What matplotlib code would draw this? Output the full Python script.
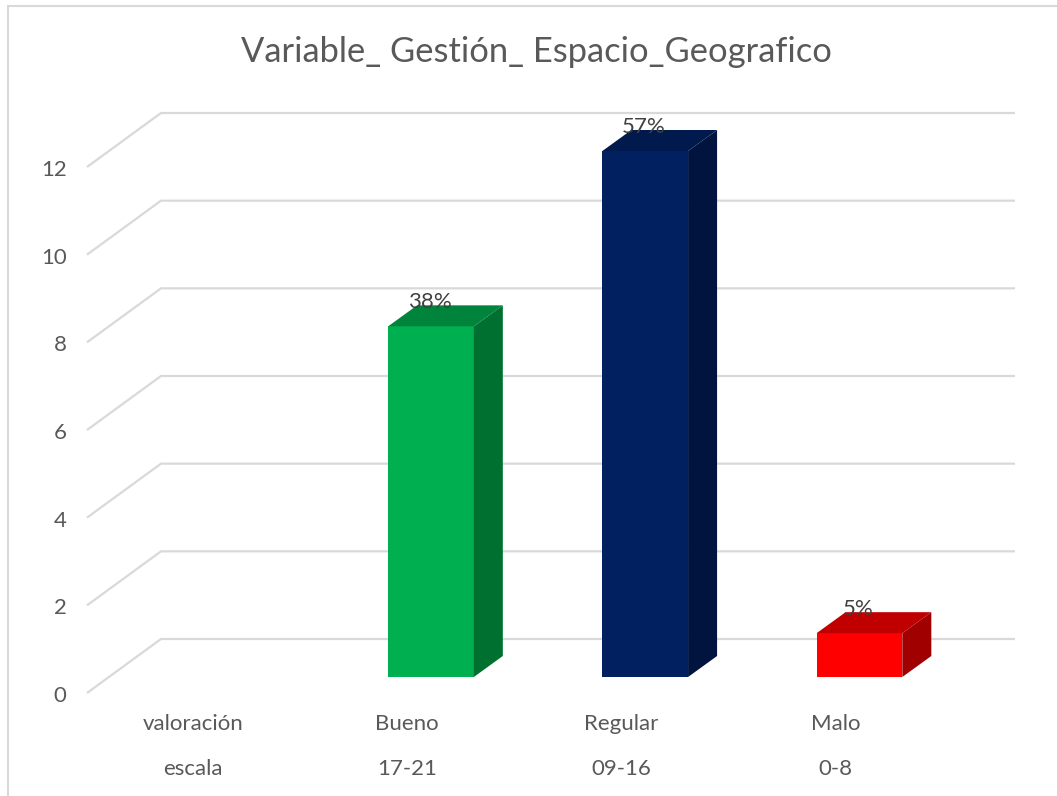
import matplotlib
matplotlib.use("Agg")
import matplotlib.pyplot as plt
from matplotlib.patches import Polygon, Rectangle
from matplotlib.transforms import ScaledTranslation

categories = ["valoración", "Bueno", "Regular", "Malo"]
scales = ["escala", "17-21", "09-16", "0-8"]
values = [0, 8, 12, 1]
percent_labels = ["", "38%", "57%", "5%"]
yticks = [0, 2, 4, 6, 8, 10, 12]
title = "Variable_ Gestión_ Espacio_Geografico"

front_colors = [None, "#00B050", "#002060", "#FF0000"]
side_colors = [None, "#007030", "#00143F", "#A00000"]
top_colors = [None, "#00843C", "#001A4D", "#C00000"]

W, H = 1057, 796
plt.rcParams["font.family"] = ["Lato", "DejaVu Sans"]
fig = plt.figure(figsize=(W / 100, H / 100), dpi=100)

L, R, T, B = 109.6, 966.6, 151.0, 677.0
ax = fig.add_axes([L / W, 1 - B / H, (R - L) / W, (B - T) / H])
ax.set_xlim(-0.5, 3.5)
ax.set_ylim(0, 12)
ax.patch.set_visible(False)
for s in ax.spines.values():
    s.set_visible(False)

px_x = (R - L) / 4
px_y = (B - T) / 12
BAR_W = 0.4
DX, DY = 29 / px_x, 21 / px_y
WALL_DX, WALL_DY = 51.4 / px_x, 38.0 / px_y
FLOOR_DX, FLOOR_DY = -22.6 / px_x, -16 / px_y
GRID = "#D9D9D9"

for v in yticks:
    xs = [-0.5 + FLOOR_DX, -0.5 + WALL_DX, 3.486 + WALL_DX]
    ys = [v + FLOOR_DY, v + WALL_DY, v + WALL_DY]
    ax.plot(xs, ys, color=GRID, lw=1.6, clip_on=False, zorder=1, solid_capstyle="butt")

for i, v in enumerate(values):
    if v <= 0:
        continue
    ax.bar(i, v, BAR_W, color=front_colors[i], zorder=3)
    r, l = i + BAR_W / 2, i - BAR_W / 2
    ax.add_patch(Polygon([(r, 0), (r + DX, DY), (r + DX, v + DY), (r, v)],
                         closed=True, fc=side_colors[i], ec="none", zorder=3, clip_on=False))
    ax.add_patch(Polygon([(l, v), (r, v), (r + DX, v + DY), (l + DX, v + DY)],
                         closed=True, fc=top_colors[i], ec="none", zorder=3, clip_on=False))
    ax.annotate(percent_labels[i], (i, v), xytext=(-0.8, 24 * 0.72), textcoords="offset points",
                ha="center", va="center", fontsize=16, color="#404040", zorder=5,
                annotation_clip=False)

ax.set_yticks(yticks)
ax.set_yticklabels([str(t) for t in yticks])
ax.set_xticks(range(len(categories)))
ax.set_xticklabels([f"{c}\n{s}" for c, s in zip(categories, scales)], linespacing=2.55)
ax.tick_params(axis="y", length=0, pad=31, labelsize=16, labelcolor="#595959")
ax.tick_params(axis="x", length=0, pad=27, labelsize=16, labelcolor="#595959")

y_off = ScaledTranslation(0, -17 / 100, fig.dpi_scale_trans)
x_off = ScaledTranslation(-24 / 100, 0, fig.dpi_scale_trans)
for lab in ax.get_yticklabels():
    lab.set_transform(lab.get_transform() + y_off)
for lab in ax.get_xticklabels():
    lab.set_transform(lab.get_transform() + x_off)

fig.add_artist(Rectangle((8 / W, -0.05), 1.2, 1 + 0.05 - 6 / H, transform=fig.transFigure,
                         fc="none", ec=GRID, lw=1.5))
fig.text(536 / W, 1 - 52 / H, title, ha="center", va="center", fontsize=24.8, color="#595959")

fig.savefig("out.png", dpi=100)
